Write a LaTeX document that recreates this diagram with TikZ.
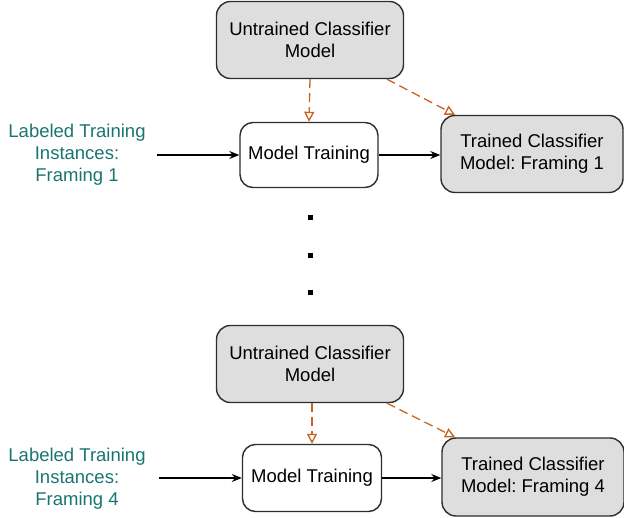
\documentclass[tikz,border=0pt]{standalone}
\usepackage{fontspec}
\setmainfont{Liberation Sans}
\usetikzlibrary{arrows.meta}
\definecolor{boxgray}{RGB}{222,222,222}
\definecolor{edgegray}{RGB}{45,45,45}
\definecolor{dashorange}{RGB}{200,98,30}
\definecolor{labelteal}{RGB}{26,117,112}
\frenchspacing

\begin{document}
\begin{tikzpicture}[x=1pt, y=-1pt,
  font=\fontsize{18.5}{22}\selectfont,
  model/.style={draw=edgegray, line width=1.4pt, rounded corners=14pt,
    fill=boxgray, align=center, inner sep=0pt},
  trainbox/.style={draw=edgegray, line width=1.4pt, rounded corners=13pt,
    fill=white, align=center, inner sep=0pt},
  datalabel/.style={text=labelteal, align=center},
  flow/.style={-{Stealth[length=10pt, width=8pt]}, line width=1.1pt, black},
  init/.style={-{Triangle[open, length=10pt, width=10pt]}, dashorange,
    line width=1.3pt, dash pattern=on 9pt off 5pt}
]

% Bounding box
\useasboundingbox (0,0) rectangle (624,518);

% Framing 1
\node[model, minimum width=187pt, minimum height=77pt] (untrainedA) at (310,40) {Untrained Classifier\\Model};
\node[trainbox, minimum width=138pt, minimum height=65pt] (trainA) at (309,155) {Model Training};
\node[model, minimum width=182pt, minimum height=77pt] (trainedA) at (532,154) {Trained Classifier\\Model: Framing 1};
\node[datalabel] (dataA) at (77,155) {Labeled Training\\Instances:\\Framing 1};

\draw[flow] (dataA.east |- trainA.west) ++(8,0) -- (trainA.west);
\draw[flow] (trainA.east) -- (trainedA.west |- trainA.east);
\draw[init] (untrainedA.south) -- (trainA.north);
\draw[init] (untrainedA.-27) -- (trainedA.153);

% Dots
\foreach \y [count=\i] in {218,256,293}{
  \node[fill=black, minimum size=5pt, inner sep=0pt] (dot\i) at (310,\y) {};
}

% Framing 4
\node[model, minimum width=187pt, minimum height=77pt] (untrainedB) at (310,364) {Untrained Classifier\\Model};
\node[trainbox, minimum width=139pt, minimum height=67pt] (trainB) at (312,478) {Model Training};
\node[model, minimum width=182pt, minimum height=78pt] (trainedB) at (533,477) {Trained Classifier\\Model: Framing 4};
\node[datalabel] (dataB) at (77,479) {Labeled Training\\Instances:\\Framing 4};

\draw[flow] (dataB.east |- trainB.west) ++(10,0) -- (trainB.west);
\draw[flow] (trainB.east) -- (trainedB.west |- trainB.east);
\draw[init] (untrainedB.south -| trainB.north) -- (trainB.north);
\draw[init] (untrainedB.-27) -- (trainedB.153);

\end{tikzpicture}
\end{document}
